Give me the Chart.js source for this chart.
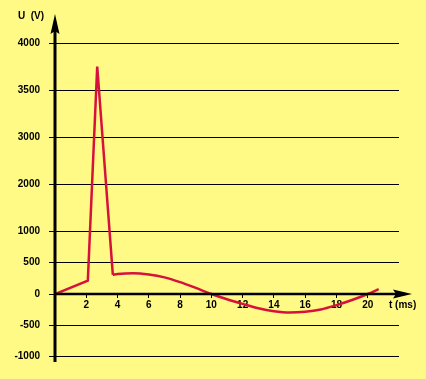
<!DOCTYPE html>
<html>
<head>
<meta charset="utf-8">
<script src="https://cdn.jsdelivr.net/npm/chart.js@4"></script>
<style>
  html, body { margin: 0; padding: 0; background: #fff985; }
  #wrap { width: 426px; height: 379px; position: relative; }
</style>
</head>
<body>
<div id="wrap"><canvas id="c" width="426" height="379"></canvas></div>
<script>
// Voltage tick labels (non-linear axis in the reference) and their vertical positions in axis units
const yTickValues = [-1000, -500, 0, 500, 1000, 2000, 3000, 3500, 4000];
const yTickPositions = [0, 31, 62, 94, 125, 172, 219, 266, 313];
// Time axis ticks (ms)
const xTickValues = [2, 4, 6, 8, 10, 12, 14, 16, 18, 20];

// Spike section (straight segments)
const spikeTimes = [0, 2.1, 2.7, 3.7];
const spikeVolts = [0, 210, 3750, 300];
// Oscillation section (smooth)
const waveTimes = [3.7, 4, 5, 6, 7, 8, 9, 10, 11, 12, 13, 14, 15, 16, 17, 18, 19, 20, 20.7];
const waveVolts = [300, 312, 325, 305, 260, 185, 95, 0, -85, -160, -230, -278, -300, -288, -250, -180, -97, 0, 76];

// piecewise-linear map from volts to axis position (reference axis is not linear)
function toPos(v) {
  const V = yTickValues, P = yTickPositions;
  if (v <= V[0]) return P[0] + (v - V[0]) * (P[1] - P[0]) / (V[1] - V[0]);
  for (let i = 0; i < V.length - 1; i++) {
    if (v <= V[i + 1]) return P[i] + (v - V[i]) * (P[i + 1] - P[i]) / (V[i + 1] - V[i]);
  }
  const n = V.length - 1;
  return P[n] + (v - V[n]) * (P[n] - P[n - 1]) / (V[n] - V[n - 1]);
}

const RED = '#d6123c';
const FONT = 'bold 10px "Liberation Sans", Arial, sans-serif';

const bgPlugin = {
  id: 'bg',
  beforeDraw(chart) {
    const ctx = chart.ctx;
    ctx.save();
    ctx.fillStyle = '#fff985';
    ctx.fillRect(0, 0, chart.width, chart.height);
    ctx.restore();
  }
};

const axesPlugin = {
  id: 'axesArrows',
  afterDatasetsDraw(chart) {
    const ctx = chart.ctx;
    const xs = chart.scales.x, ys = chart.scales.y;
    const x0 = xs.getPixelForValue(0);
    const yZero = ys.getPixelForValue(toPos(0));
    const top = chart.chartArea.top, bottom = chart.chartArea.bottom;
    ctx.save();
    ctx.strokeStyle = '#000';
    ctx.fillStyle = '#000';
    // y axis
    ctx.lineWidth = 3;
    ctx.beginPath();
    ctx.moveTo(x0, bottom);
    ctx.lineTo(x0, top - 14);
    ctx.stroke();
    ctx.beginPath();
    ctx.moveTo(x0, top - 29);
    ctx.lineTo(x0 + 4.5, top - 9);
    ctx.lineTo(x0, top - 12);
    ctx.lineTo(x0 - 4.5, top - 9);
    ctx.closePath();
    ctx.fill();
    // x axis
    const xEnd = chart.chartArea.right + 13;
    ctx.lineWidth = 2.5;
    ctx.beginPath();
    ctx.moveTo(x0, yZero);
    ctx.lineTo(xEnd - 14, yZero);
    ctx.stroke();
    ctx.beginPath();
    ctx.moveTo(xEnd, yZero);
    ctx.lineTo(xEnd - 19, yZero - 4.5);
    ctx.lineTo(xEnd - 16, yZero);
    ctx.lineTo(xEnd - 19, yZero + 4.5);
    ctx.closePath();
    ctx.fill();
    // axis titles
    ctx.font = FONT;
    ctx.textBaseline = 'middle';
    ctx.textAlign = 'left';
    ctx.fillText('U  (V)', 18, 16);
    ctx.fillText('t (ms)', 389, yZero + 11);
    ctx.restore();
  }
};

new Chart(document.getElementById('c'), {
  type: 'line',
  data: {
    datasets: [
      {
        data: spikeTimes.map((t, i) => ({ x: t, y: toPos(spikeVolts[i]) })),
        borderColor: RED, borderWidth: 2.5, pointRadius: 0, tension: 0, fill: false
      },
      {
        data: waveTimes.map((t, i) => ({ x: t, y: toPos(waveVolts[i]) })),
        borderColor: RED, borderWidth: 2.5, pointRadius: 0, cubicInterpolationMode: 'monotone', fill: false
      }
    ]
  },
  options: {
    responsive: false,
    animation: false,
    events: [],
    layout: { padding: { left: 0, top: 43, right: 27, bottom: 17 } },
    plugins: { legend: { display: false }, tooltip: { enabled: false } },
    scales: {
      x: {
        type: 'linear',
        position: { y: toPos(0) },
        min: 0, max: 22,
        afterBuildTicks(scale) { scale.ticks = xTickValues.map(v => ({ value: v })); },
        ticks: {
          autoSkip: false, maxRotation: 0, color: '#000', padding: 1,
          font: { family: '"Liberation Sans", Arial, sans-serif', size: 10, weight: 'bold' }
        },
        grid: { drawOnChartArea: false, drawTicks: true, tickLength: 4, color: '#000', lineWidth: 1 },
        border: { display: false }
      },
      y: {
        type: 'linear',
        position: 'left',
        min: -6, max: 313,
        afterFit(scale) { scale.width = 55; },
        afterBuildTicks(scale) { scale.ticks = yTickPositions.map(v => ({ value: v })); },
        ticks: {
          autoSkip: false, color: '#000', padding: 9,
          font: { family: '"Liberation Sans", Arial, sans-serif', size: 10, weight: 'bold' },
          callback(value, index) { return String(yTickValues[index]); }
        },
        grid: { color: '#000', lineWidth: 1, tickLength: 6, drawTicks: true },
        border: { display: false }
      }
    }
  },
  plugins: [bgPlugin, axesPlugin]
});
</script>
</body>
</html>
